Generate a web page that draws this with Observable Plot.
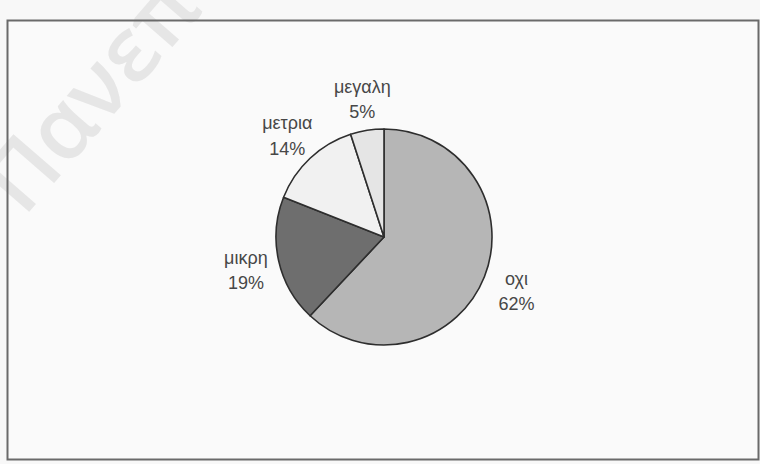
<!DOCTYPE html>
<html>
<head>
<meta charset="utf-8">
<script src="https://cdn.jsdelivr.net/npm/d3@7"></script>
<script src="https://cdn.jsdelivr.net/npm/@observablehq/plot@0.6"></script>
<style>
  html, body { margin: 0; padding: 0; background: #f8f8f8; }
  #chart svg { display: block; }
</style>
</head>
<body>
<div id="chart"></div>
<script>
// Data
const categories = ["οχι", "μικρη", "μετρια", "μεγαλη"];
const percents = [62, 19, 14, 5];
const sliceColors = ["#b6b6b6", "#6e6e6e", "#f1f1f1", "#e5e5e5"];
const watermark = "Πανεπ";

const W = 760, H = 464;
const frame = {left: 7, top: 20, right: 758, bottom: 459};
const center = {x: 384, y: 237};
const R = 108;        // pie radius in scale units (1 unit = 1 px)
const LR = 142;       // label radius

const data = categories.map((c, i) => ({cat: c, value: percents[i]}));
const arcs = d3.pie().value(d => d.value).sort(null)(data);
const labels = arcs.map(a => {
  const mid = (a.startAngle + a.endAngle) / 2;
  return {
    text: `${a.data.cat}\n${a.data.value}%`,
    x: Math.sin(mid) * LR,
    y: Math.cos(mid) * LR
  };
});

const colorOf = d3.scaleOrdinal(categories, sliceColors);

function pieMark(index, scales) {
  const {x, y} = scales;
  const cx = x(0), cy = y(0);
  const rpx = x(R) - x(0);
  const arc = d3.arc().innerRadius(0).outerRadius(rpx);
  const g = d3.create("svg:g").attr("transform", `translate(${cx},${cy})`);
  g.selectAll("path")
    .data(arcs)
    .join("path")
    .attr("d", arc)
    .attr("fill", d => colorOf(d.data.cat))
    .attr("stroke", "#2e2e2e")
    .attr("stroke-width", 1.6)
    .attr("stroke-linejoin", "round");
  return g.node();
}

const chart = Plot.plot({
  width: W,
  height: H,
  marginLeft: frame.left,
  marginTop: frame.top,
  marginRight: W - frame.right,
  marginBottom: H - frame.bottom,
  style: {background: "#f8f8f8", fontFamily: "'Liberation Sans', Arial, sans-serif", overflow: "hidden"},
  x: {domain: [frame.left - center.x, frame.right - center.x], axis: null},
  y: {domain: [center.y - frame.bottom, center.y - frame.top], axis: null},
  marks: [
    Plot.frame({stroke: null, fill: "#fafafa"}),
    Plot.text([watermark], {
      x: [-382], y: [38],
      text: d => d,
      fontSize: 88,
      fontWeight: 600,
      fontFamily: "'Open Sans', 'DejaVu Sans', sans-serif",
      rotate: -49,
      fill: "#e6e6e6",
      textAnchor: "start",
      clip: false
    }),
    Plot.frame({stroke: "#6a6a6a", strokeWidth: 2}),
    pieMark,
    Plot.text(labels, {
      x: "x", y: "y", text: "text",
      fontSize: 18, lineHeight: 1.4,
      fill: "#474747",
      textAnchor: "middle"
    })
  ]
});
document.getElementById("chart").appendChild(chart);
</script>
</body>
</html>
